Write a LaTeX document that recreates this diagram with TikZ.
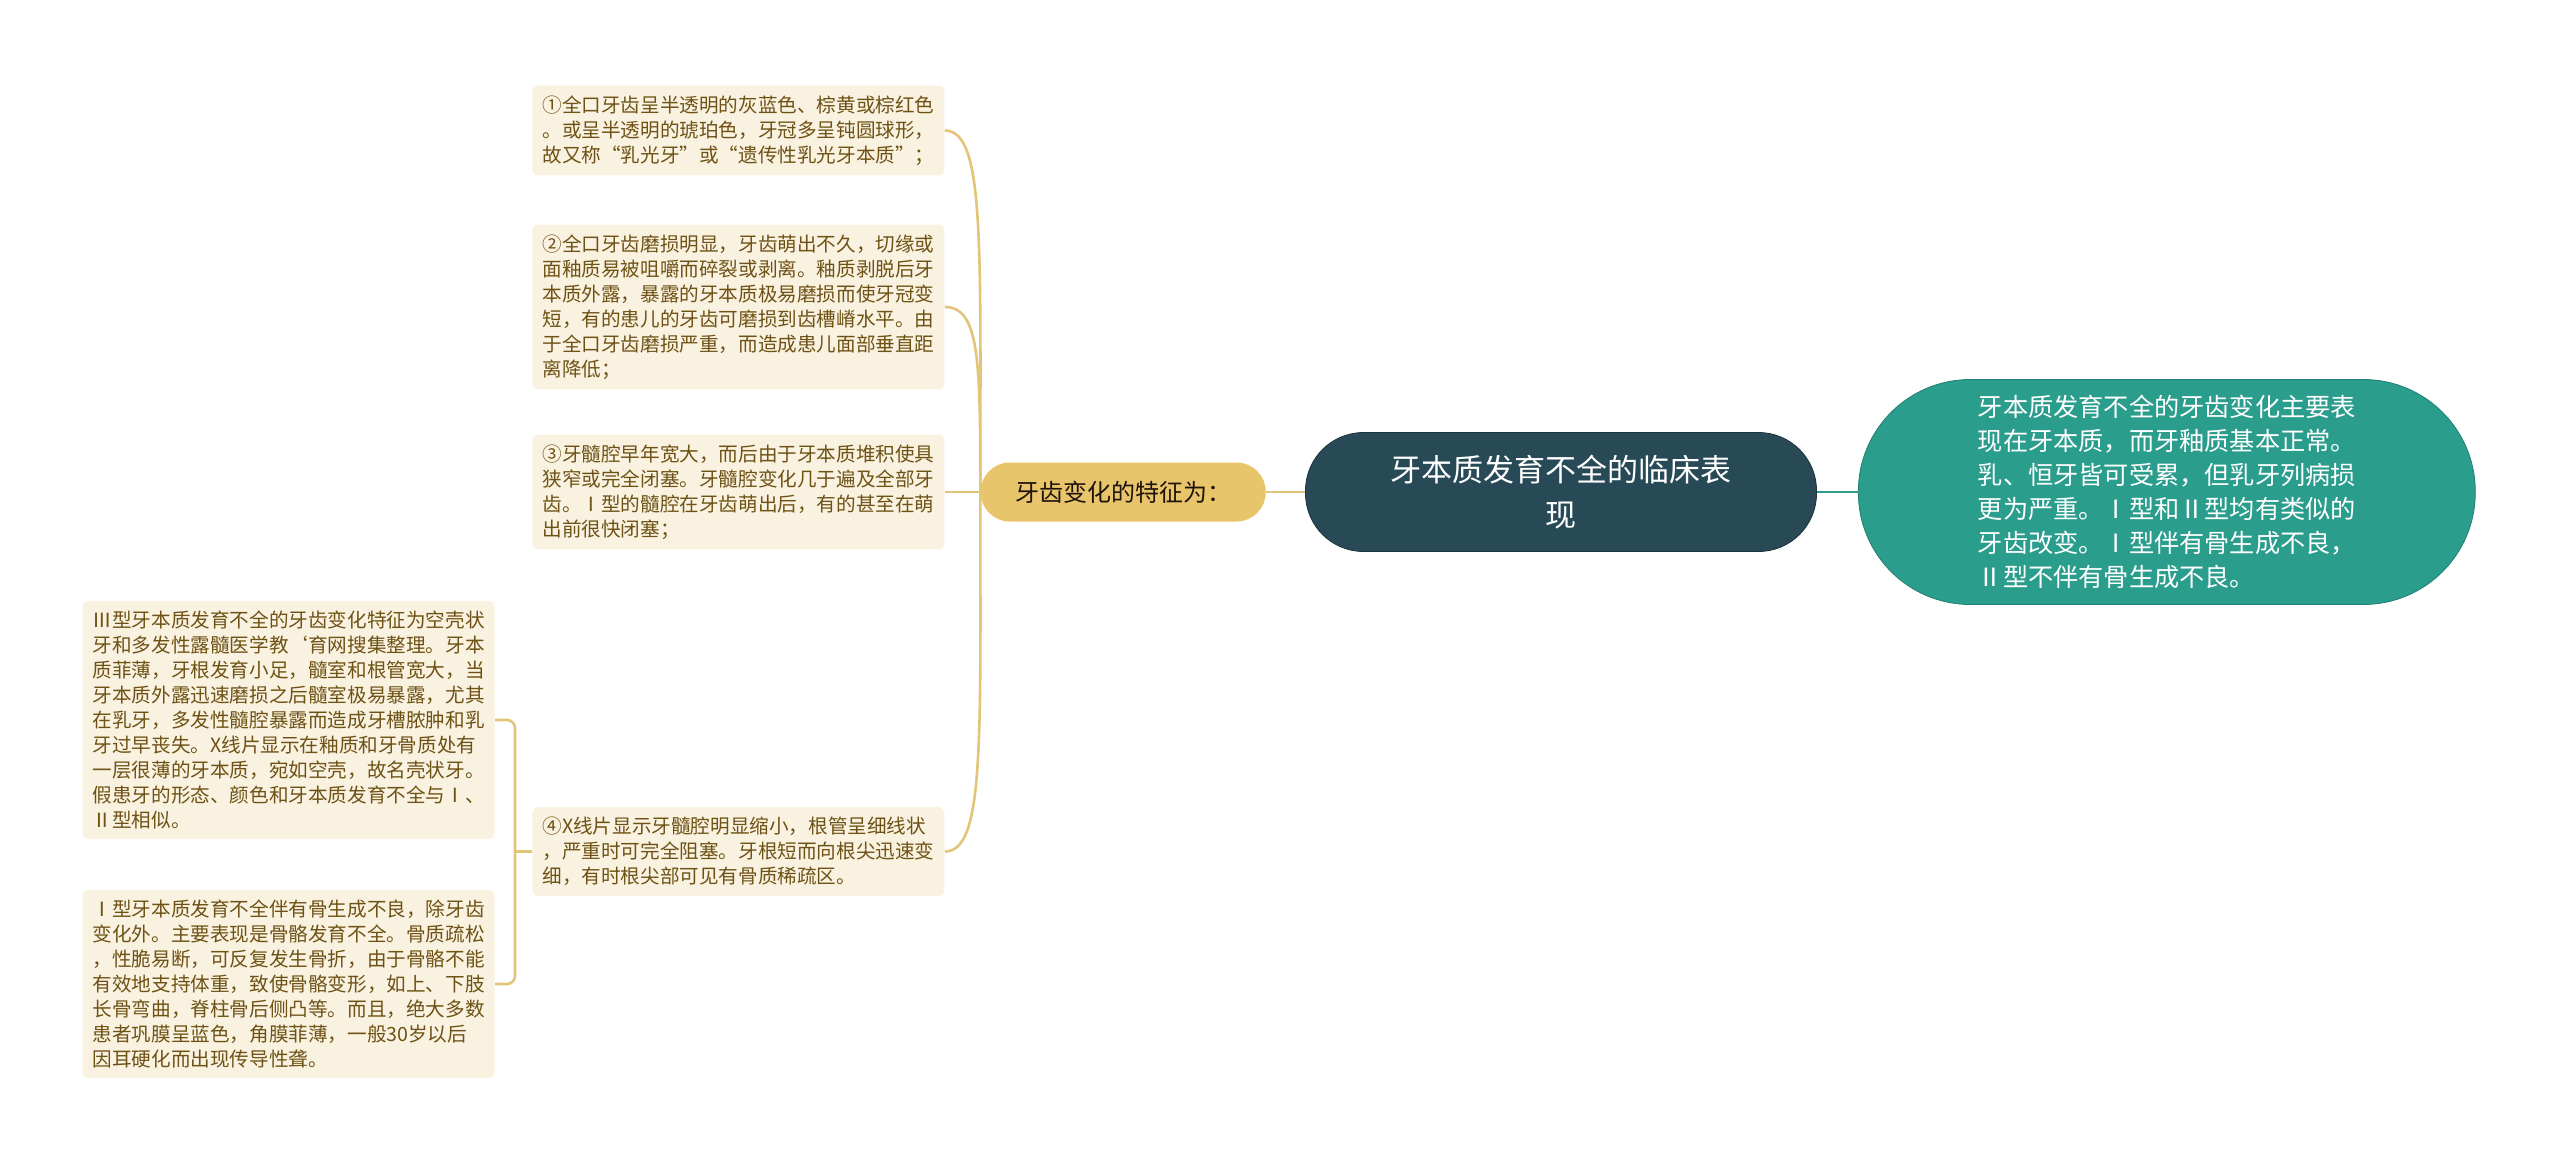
\documentclass[tikz,border=0pt]{standalone}
\usepackage{fontspec}
\setmainfont{Noto Sans CJK SC}
\usepackage{xcolor}
\usetikzlibrary{positioning}
\definecolor{rootfill}{HTML}{284A57}
\definecolor{topicfill}{HTML}{2A9D8C}
\definecolor{branchfill}{HTML}{E8C46A}
\definecolor{leaffill}{HTML}{FAF2E0}
\definecolor{leaftext}{HTML}{6E5215}
\definecolor{goldline}{HTML}{E3C57A}

\begin{document}
\begin{tikzpicture}[x=0.5pt, y=-0.5pt,
	root/.style={draw=rootfill!70!black, fill=rootfill, text=white, rounded corners=29pt, minimum width=255.5pt, minimum height=59.5pt, align=center, font=\fontsize{15.5pt}{22.5pt}\selectfont},
	topic/.style={draw=topicfill!80!black, fill=topicfill, text=white, rounded corners=56pt, minimum width=308.5pt, minimum height=112.5pt, align=left, font=\fontsize{12.6pt}{17pt}\selectfont},
	branch/.style={fill=branchfill, text=black!85!brown, rounded corners=14.5pt, minimum width=142.5pt, minimum height=29.5pt, font=\fontsize{12pt}{14pt}\selectfont},
	leaf/.style={fill=leaffill, text=leaftext, rounded corners=3pt, inner xsep=5pt, inner ysep=5pt, minimum width=206pt, align=left, font=\fontsize{9.8pt}{12.5pt}\selectfont},
	link/.style={draw=goldline, line width=1.3pt}]
	\fill[white] (0,0) rectangle (2560,1167);
	\useasboundingbox (0,0) rectangle (2560,1167);
	\node[root] (root) at (1561,492) {牙本质发育不全的临床表\\现};
	\node[topic, right=20.5pt of root] (topic) {牙本质发育不全的牙齿变化主要表\\现在牙本质，而牙釉质基本正常。\\乳、恒牙皆可受累，但乳牙列病损\\更为严重。Ⅰ型和Ⅱ型均有类似的\\牙齿改变。Ⅰ型伴有骨生成不良，\\Ⅱ型不伴有骨生成不良。};
	\node[branch, left=19.5pt of root] (mid) {牙齿变化的特征为：};
	\node[leaf, anchor=west] (l1) at (532,130.5) {①全口牙齿呈半透明的灰蓝色、棕黄或棕红色\\。或呈半透明的琥珀色，牙冠多呈钝圆球形，\\故又称“乳光牙”或“遗传性乳光牙本质”；};
	\node[leaf, anchor=west] (l2) at (532,307) {②全口牙齿磨损明显，牙齿萌出不久，切缘或\\面釉质易被咀嚼而碎裂或剥离。釉质剥脱后牙\\本质外露，暴露的牙本质极易磨损而使牙冠变\\短，有的患儿的牙齿可磨损到齿槽嵴水平。由\\于全口牙齿磨损严重，而造成患儿面部垂直距\\离降低；};
	\node[leaf, anchor=west] (l3) at (532,492) {③牙髓腔早年宽大，而后由于牙本质堆积使具\\狭窄或完全闭塞。牙髓腔变化几于遍及全部牙\\齿。Ⅰ型的髓腔在牙齿萌出后，有的甚至在萌\\出前很快闭塞；};
	\node[leaf, anchor=west] (l4) at (532,851.5) {④X线片显示牙髓腔明显缩小，根管呈细线状\\，严重时可完全阻塞。牙根短而向根尖迅速变\\细，有时根尖部可见有骨质稀疏区。};
	\node[leaf, anchor=east] (l4a) at (495,720) {Ⅲ型牙本质发育不全的牙齿变化特征为空壳状\\牙和多发性露髓医学教\symbol{96}育网搜集整理。牙本\\质菲薄，牙根发育小足，髓室和根管宽大，当\\牙本质外露迅速磨损之后髓室极易暴露，尤其\\在乳牙，多发性髓腔暴露而造成牙槽脓肿和乳\\牙过早丧失。X线片显示在釉质和牙骨质处有\\一层很薄的牙本质，宛如空壳，故名壳状牙。\\假患牙的形态、颜色和牙本质发育不全与Ⅰ、\\Ⅱ型相似。};
	\node[leaf, anchor=east] (l4b) at (495,984) {Ⅰ型牙本质发育不全伴有骨生成不良，除牙齿\\变化外。主要表现是骨骼发育不全。骨质疏松\\，性脆易断，可反复发生骨折，由于骨骼不能\\有效地支持体重，致使骨骼变形，如上、下肢\\长骨弯曲，脊柱骨后侧凸等。而且，绝大多数\\患者巩膜呈蓝色，角膜菲薄，一般30岁以后\\因耳硬化而出现传导性聋。};
	\draw[draw=topicfill, line width=1.3pt] (root.east) -- (topic.west);
	\draw[link] (root.west) -- (mid.east);
	\draw[link] (l1.east) .. controls +(40,0) and +(0,-250) .. (mid.west);
	\draw[link] (l2.east) .. controls +(35,0) and +(0,-130) .. (mid.west);
	\draw[link] (l3.east) -- (mid.west);
	\draw[link] (l4.east) .. controls +(40,0) and +(0,250) .. (mid.west);
	\coordinate[left=8.5pt of l4.west] (lfork);
	\draw[link] (l4.west) -- (lfork);
	\draw[link, rounded corners=4pt] (l4a.east) -| (lfork) |- (l4b.east);
\end{tikzpicture}
\end{document}
